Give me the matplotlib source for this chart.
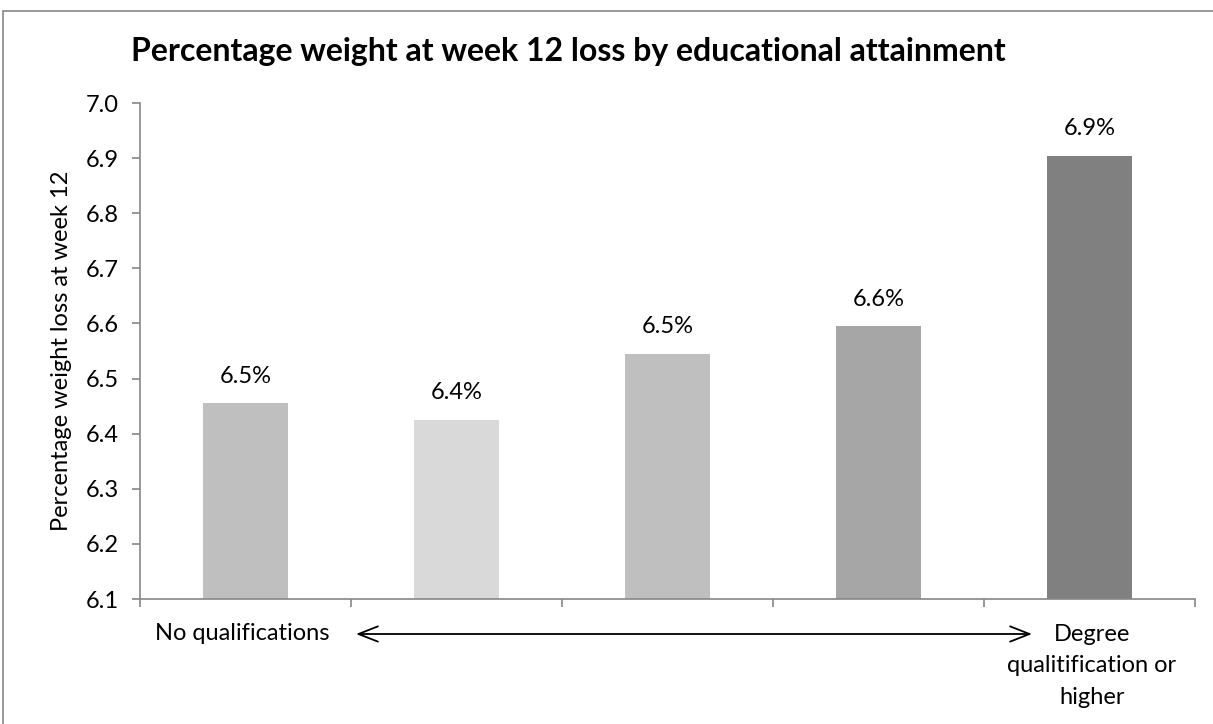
import matplotlib.pyplot as plt
from matplotlib.patches import Rectangle

# data
categories = ["1", "2", "3", "4", "5"]
values = [6.455, 6.425, 6.545, 6.595, 6.904]
bar_colors = ["#BFBFBF", "#D9D9D9", "#BFBFBF", "#A6A6A6", "#808080"]
yticks = [6.1, 6.2, 6.3, 6.4, 6.5, 6.6, 6.7, 6.8, 6.9, 7.0]

title = "Percentage weight at week 12 loss by educational attainment"
ylabel = "Percentage weight loss at week 12"
low_label = "No qualifications"
high_label = "Degree\nqualitification or\nhigher"

W, H = 1213, 724
plt.rcParams["font.family"] = ["Lato", "DejaVu Sans"]
axis_grey = "#868686"
fs = 17


def fx(px):
    return px / W


def fy(py):
    return 1 - py / H


def main():
    fig = plt.figure(figsize=(W / 100, H / 100), dpi=100)
    ax = fig.add_axes([fx(140), fy(599), fx(1195) - fx(140), fy(103) - fy(599)])

    x = list(range(len(categories)))
    bars = ax.bar(x, values, width=0.4, color=bar_colors, zorder=2)
    for b, v in zip(bars, values):
        ax.annotate(f"{v:.1f}%", (b.get_x() + b.get_width() / 2, v),
                    xytext=(0, 12), textcoords="offset points",
                    ha="center", va="bottom", fontsize=fs)

    ax.set_xlim(-0.5, len(categories) - 0.5)
    ax.set_ylim(yticks[0], yticks[-1])
    ax.set_yticks(yticks)
    ax.set_yticklabels([f"{t:.1f}" for t in yticks], fontsize=fs)
    ax.set_xticks([i - 0.5 for i in range(len(categories) + 1)])
    ax.set_xticklabels([])
    ax.tick_params(axis="both", colors=axis_grey, length=6, width=1.2,
                   labelcolor="black")
    ax.tick_params(axis="y", pad=9)
    for side in ["top", "right"]:
        ax.spines[side].set_visible(False)
    for side in ["left", "bottom"]:
        ax.spines[side].set_color(axis_grey)
        ax.spines[side].set_linewidth(1.2)

    ax.set_ylabel(ylabel, fontsize=fs, labelpad=10)

    fig.text(fx(568), fy(52), title, ha="center", va="center",
             fontsize=23, fontweight="bold")

    # low / high end labels and the arrow between them
    fig.text(fx(155), fy(634), low_label, ha="left", va="center", fontsize=fs)
    fig.text(fx(1092), fy(666), high_label, ha="center", va="center",
             fontsize=fs, linespacing=1.6)
    ax.annotate("", xy=(fx(1032), fy(634)), xytext=(fx(356), fy(634)),
                xycoords="figure fraction", textcoords="figure fraction",
                arrowprops=dict(arrowstyle="<->,head_length=1.4,head_width=0.55",
                                color="black", lw=1.3, shrinkA=0, shrinkB=0))

    # chart area border
    fig.add_artist(Rectangle((fx(3), fy(800)), fx(1300) - fx(3), fy(11) - fy(800),
                             transform=fig.transFigure, fill=False,
                             edgecolor=axis_grey, lw=1.2))

    fig.savefig("out.png", dpi=100)


if __name__ == "__main__":
    main()
